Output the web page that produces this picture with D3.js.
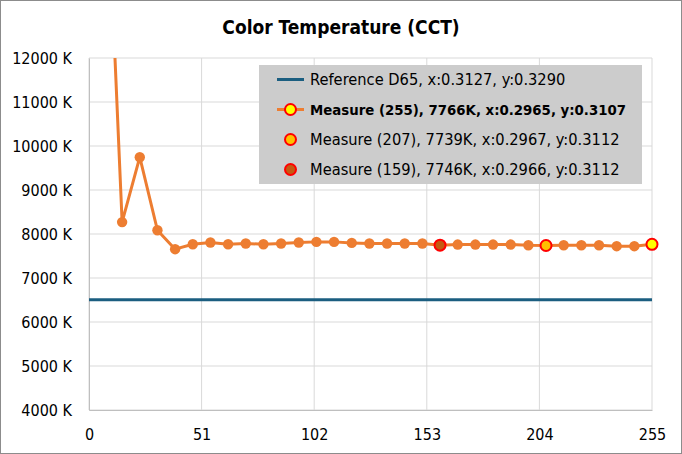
<!DOCTYPE html>
<html>
<head>
<meta charset="utf-8">
<script src="https://cdn.jsdelivr.net/npm/d3@7"></script>
<style>
  body { margin: 0; background: #fff; }
  text { font-family: "Liberation Sans Narrow", "DejaVu Sans Condensed", "Liberation Sans", sans-serif; }
</style>
</head>
<body>
<script>
// measured CCT vs. input level
const levels = [7, 15, 23, 31, 39, 47, 55, 63, 71, 79, 87, 95, 103, 111, 119, 127,
                135, 143, 151, 159, 167, 175, 183, 191, 199, 207, 215, 223, 231, 239, 247, 255];
const cct = [17500, 8270, 9745, 8085, 7655, 7768, 7806, 7768, 7783, 7768, 7783, 7806, 7821, 7821, 7798, 7783,
             7783, 7783, 7783, 7746, 7760, 7760, 7760, 7760, 7745, 7739, 7745, 7745, 7745, 7723, 7723, 7766];
const refCCT = 6504;
const xTicks = [0, 51, 102, 153, 204, 255];
const yTicks = [4000, 5000, 6000, 7000, 8000, 9000, 10000, 11000, 12000];

// highlighted measures: level, fill
const highlights = [
  { level: 255, fill: "#ffff00" },
  { level: 207, fill: "#ffc000" },
  { level: 159, fill: "#c55a11" }
];

const legendItems = [
  { label: "Reference D65, x:0.3127, y:0.3290", type: "ref" },
  { label: "Measure (255), 7766K, x:0.2965, y:0.3107", type: "line", fill: "#ffff00", bold: true },
  { label: "Measure (207), 7739K, x:0.2967, y:0.3112", type: "dot", fill: "#ffc000" },
  { label: "Measure (159), 7746K, x:0.2966, y:0.3112", type: "dot", fill: "#c55a11" }
];

const W = 682, H = 454;
const m = { left: 89, right: 30, top: 58, bottom: 44 };
const orange = "#ed7d31", blue = "#1b5e80";

const svg = d3.select("body").append("svg")
    .attr("width", W).attr("height", H);

svg.append("rect")
    .attr("x", 0.5).attr("y", 0.5)
    .attr("width", W - 1).attr("height", H - 1)
    .attr("fill", "#fff").attr("stroke", "#8c8c8c");

svg.append("text")
    .attr("x", W / 2).attr("y", 34)
    .attr("text-anchor", "middle")
    .attr("font-size", "19px").attr("font-weight", "bold")
    .text("Color Temperature (CCT)");

const x = d3.scaleLinear().domain([0, 255]).range([m.left, W - m.right]);
const y = d3.scaleLinear().domain([4000, 12000]).range([H - m.bottom, m.top]);

// grid
svg.append("g").selectAll("line").data(yTicks).join("line")
    .attr("x1", x(0)).attr("x2", x(255))
    .attr("y1", d => y(d)).attr("y2", d => y(d))
    .attr("stroke", "#d9d9d9");
svg.append("g").selectAll("line").data(xTicks).join("line")
    .attr("x1", d => x(d)).attr("x2", d => x(d))
    .attr("y1", y(4000)).attr("y2", y(12000))
    .attr("stroke", "#d9d9d9");

// axes
const yAxis = svg.append("g")
    .attr("transform", `translate(${m.left},0)`)
    .call(d3.axisLeft(y).tickValues(yTicks).tickSize(0).tickPadding(17).tickFormat(d => d + " K"));
yAxis.select(".domain").attr("stroke", "#bfbfbf");
yAxis.selectAll("text").attr("font-size", "16px").attr("fill", "#000")
    .attr("font-family", null);

const xAxis = svg.append("g")
    .attr("transform", `translate(0,${y(4000)})`)
    .call(d3.axisBottom(x).tickValues(xTicks).tickSize(0).tickPadding(19));
xAxis.select(".domain").attr("stroke", "#bfbfbf");
xAxis.selectAll("text").attr("font-size", "16px").attr("fill", "#000")
    .attr("font-family", null);

// clip
svg.append("clipPath").attr("id", "plot")
  .append("rect")
    .attr("x", x(0)).attr("y", y(12000))
    .attr("width", x(255) - x(0)).attr("height", y(4000) - y(12000));

const plot = svg.append("g").attr("clip-path", "url(#plot)");

// reference line
plot.append("line")
    .attr("x1", x(0)).attr("x2", x(255))
    .attr("y1", y(refCCT)).attr("y2", y(refCCT))
    .attr("stroke", blue).attr("stroke-width", 3);

const pts = levels.map((l, i) => [l, cct[i]]);
plot.append("path")
    .datum(pts)
    .attr("fill", "none")
    .attr("stroke", orange).attr("stroke-width", 3)
    .attr("stroke-linejoin", "round")
    .attr("d", d3.line().x(d => x(d[0])).y(d => y(d[1])));

plot.selectAll("circle.pt").data(pts).join("circle")
    .attr("class", "pt")
    .attr("cx", d => x(d[0])).attr("cy", d => y(d[1]))
    .attr("r", 5.2).attr("fill", orange);

svg.selectAll("circle.hl").data(highlights).join("circle")
    .attr("class", "hl")
    .attr("cx", d => x(d.level))
    .attr("cy", d => y(cct[levels.indexOf(d.level)]))
    .attr("r", 5.5)
    .attr("fill", d => d.fill)
    .attr("stroke", "#ff0000").attr("stroke-width", 2);

// legend
const lg = svg.append("g").attr("transform", "translate(259,65)");
lg.append("rect").attr("width", 383).attr("height", 119).attr("fill", "#cccccc");
legendItems.forEach((it, i) => {
  const cy = 14.5 + i * 30;
  const g = lg.append("g").attr("transform", `translate(0,${cy})`);
  if (it.type === "ref" || it.type === "line") {
    g.append("line").attr("x1", 18).attr("x2", 45).attr("y1", 0).attr("y2", 0)
        .attr("stroke", it.type === "ref" ? blue : orange).attr("stroke-width", 3);
  }
  if (it.type !== "ref") {
    g.append("circle").attr("cx", 31.5).attr("cy", 0).attr("r", 5.5)
        .attr("fill", it.fill).attr("stroke", "#ff0000").attr("stroke-width", 2);
  }
  g.append("text").attr("x", 51).attr("y", 0).attr("dy", "0.35em")
      .attr("font-size", it.bold ? "14.8px" : "16.3px")
      .attr("font-weight", it.bold ? "bold" : "normal")
      .text(it.label);
});
</script>
</body>
</html>
